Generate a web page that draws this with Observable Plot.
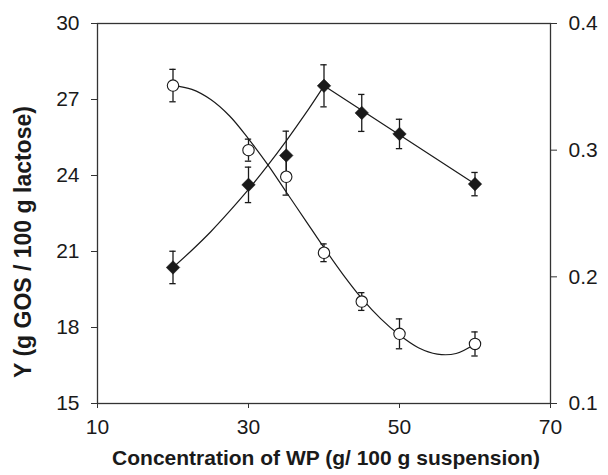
<!DOCTYPE html>
<html>
<head>
<meta charset="utf-8">
<script src="https://cdn.jsdelivr.net/npm/d3@7"></script>
<script src="https://cdn.jsdelivr.net/npm/@observablehq/plot@0.6"></script>
<style>
  html, body { margin: 0; padding: 0; background: #fff; }
</style>
</head>
<body>
<div id="chart"></div>
<script>
// ---- data ----
const wp = [20, 30, 35, 40, 45, 50, 60];                       // g / 100 g suspension
const yieldGOS = [20.37, 23.63, 24.79, 27.54, 26.47, 25.64, 23.66]; // left axis (diamonds)
const yieldErr = [0.64, 0.70, 0.96, 0.83, 0.73, 0.58, 0.46];
const rightVal = [0.351, 0.300, 0.279, 0.219, 0.1805, 0.155, 0.147]; // right axis (circles)
const rightErr = [0.0128, 0.0087, 0.0145, 0.007, 0.007, 0.0118, 0.0095];

// fitted trend lines
const fitYieldX1 = [20, 22.5, 25, 27.5, 30, 32.5, 35, 37.5, 40];
const fitYield1  = [20.37, 21.05, 21.78, 22.59, 23.45, 24.38, 25.37, 26.42, 27.54];
const fitYieldX2 = [40, 60];
const fitYield2  = [27.54, 23.66];
const fitRightX  = [20, 22.5, 25, 27.5, 30, 32.5, 35, 37.5, 40, 42.5, 45, 47.5, 50, 52.5, 55, 57.5, 60];
const fitRight   = [0.351, 0.348, 0.340, 0.327, 0.309, 0.289, 0.267, 0.245, 0.223, 0.202, 0.183, 0.167, 0.154, 0.144, 0.139, 0.1395, 0.147];

// axis ticks
const xTicks = [10, 30, 50, 70];
const leftTicks = [15, 18, 21, 24, 27, 30];
const rightTicks = [0.1, 0.2, 0.3, 0.4];
const xTitle = "Concentration of WP (g/ 100 g suspension)";
const yTitle = "Y (g GOS / 100 g lactose)";

// ---- right axis mapped onto left scale (0.1..0.4 -> 15..30) ----
const leftDomain = [15, 30], rightDomain = [0.1, 0.4];
const toLeft = v => leftDomain[0] + (v - rightDomain[0]) * (leftDomain[1] - leftDomain[0]) / (rightDomain[1] - rightDomain[0]);
const rightLabel = new Map(rightTicks.map(t => [toLeft(t), t.toFixed(1)]));

const diamonds = wp.map((x, i) => ({x, y: yieldGOS[i], e: yieldErr[i]}));
const circles = wp.map((x, i) => ({x, y: toLeft(rightVal[i]), lo: toLeft(rightVal[i] - rightErr[i]), hi: toLeft(rightVal[i] + rightErr[i])}));
const dErr = diamonds.map(d => ({x: d.x, lo: d.y - d.e, hi: d.y + d.e}));
const allErr = dErr.concat(circles.map(c => ({x: c.x, lo: c.lo, hi: c.hi})));
const fitY1 = fitYieldX1.map((x, i) => ({x, y: fitYield1[i]}));
const fitY2 = fitYieldX2.map((x, i) => ({x, y: fitYield2[i]}));
const fitR = fitRightX.map((x, i) => ({x, y: toLeft(fitRight[i])}));
const capHalf = 0.42; // half cap width in x units

const ink = "#1a1a1a";
const svg = Plot.plot({
  width: 608,
  height: 475,
  marginLeft: 97,
  marginRight: 58,
  marginTop: 23,
  marginBottom: 72,
  style: {fontFamily: "'Liberation Sans', Arial, sans-serif", fontSize: "21px", color: ink, background: "#fff"},
  x: {domain: [10, 70]},
  y: {domain: leftDomain},
  marks: [
    Plot.frame({stroke: "#333", strokeWidth: 1.3}),
    Plot.axisX(xTicks, {tickSize: 5, tickPadding: 11, label: null, stroke: "#333"}),
    Plot.axisY(leftTicks, {anchor: "left", tickSize: 6, tickPadding: 12, label: null, stroke: "#333"}),
    Plot.axisY(rightTicks.map(toLeft), {anchor: "right", tickSize: 6, tickPadding: 12, label: null, stroke: "#333", tickFormat: d => rightLabel.get(d)}),
    Plot.line(fitY1, {x: "x", y: "y", curve: "catmull-rom", stroke: ink, strokeWidth: 1.2}),
    Plot.line(fitY2, {x: "x", y: "y", stroke: ink, strokeWidth: 1.2}),
    Plot.line(fitR, {x: "x", y: "y", curve: "catmull-rom", stroke: ink, strokeWidth: 1.2}),
    Plot.ruleX(allErr, {x: "x", y1: "lo", y2: "hi", stroke: ink, strokeWidth: 1.3}),
    Plot.ruleY(allErr, {y: "lo", x1: d => d.x - capHalf, x2: d => d.x + capHalf, stroke: ink, strokeWidth: 1.3}),
    Plot.ruleY(allErr, {y: "hi", x1: d => d.x - capHalf, x2: d => d.x + capHalf, stroke: ink, strokeWidth: 1.3}),
    Plot.dot(circles, {x: "x", y: "y", r: 5.7, fill: "#fff", stroke: ink, strokeWidth: 1.1}),
    Plot.dot(diamonds, {x: "x", y: "y", symbol: "diamond2", r: 6.1, fill: ink, stroke: ink, strokeWidth: 0.5})
  ]
});

const s = d3.select(svg);
s.append("text")
  .attr("x", 326).attr("y", 465)
  .attr("text-anchor", "middle")
  .attr("font-weight", "bold").attr("font-size", 21)
  .attr("fill", ink)
  .text(xTitle);
s.append("text")
  .attr("transform", "translate(31,242) rotate(-90)")
  .attr("text-anchor", "middle")
  .attr("font-weight", "bold").attr("font-size", 23)
  .attr("fill", ink)
  .text(yTitle);

document.getElementById("chart").appendChild(svg);
</script>
</body>
</html>
